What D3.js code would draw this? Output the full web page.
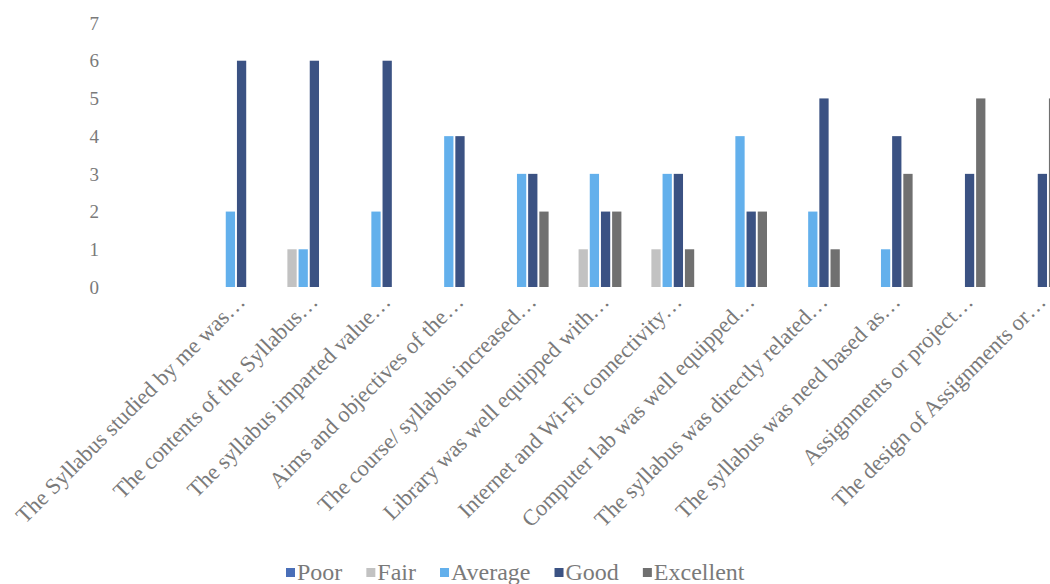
<!DOCTYPE html>
<html>
<head>
<meta charset="utf-8">
<script src="https://cdn.jsdelivr.net/npm/d3@7/dist/d3.min.js"></script>
<style>
  html, body { margin: 0; padding: 0; background: #fff; }
  svg { display: block; }
  text { font-family: "Liberation Serif", "Times New Roman", serif; }
</style>
</head>
<body>
<svg id="chart" width="1050" height="584"></svg>
<script>
const categories = [
  "The Syllabus studied by me was…",
  "The contents of the Syllabus…",
  "The syllabus imparted value…",
  "Aims and objectives of the…",
  "The course/ syllabus increased…",
  "Library was well equipped with…",
  "Internet and Wi-Fi connectivity…",
  "Computer lab was well equipped…",
  "The syllabus was directly related…",
  "The syllabus was need based as…",
  "Assignments or project…",
  "The design of Assignments or…"
];
const seriesNames = ["Poor", "Fair", "Average", "Good", "Excellent"];
const poor      = [0, 0, 0, 0, 0, 0, 0, 0, 0, 0, 0, 0];
const fair      = [0, 1, 0, 0, 0, 1, 1, 0, 0, 0, 0, 0];
const average   = [2, 1, 2, 4, 3, 3, 3, 4, 2, 1, 0, 0];
const good      = [6, 6, 6, 4, 3, 2, 3, 2, 5, 4, 3, 3];
const excellent = [0, 0, 0, 0, 2, 2, 1, 2, 1, 3, 5, 5];
const yTicks = [0, 1, 2, 3, 4, 5, 6, 7];
const colors = ["#4a6fb8", "#c2c2c2", "#63b0ec", "#3b5283", "#707070"];

const seriesValues = [poor, fair, average, good, excellent];

const svg = d3.select("#chart");

const x = d3.scaleBand().domain(categories).range([194, 194 + 12 * 72.8]).paddingInner(0).paddingOuter(0);
const xs = d3.scaleBand().domain(seriesNames).range([-27, 27]).paddingInner(0.17);
const y = d3.scaleLinear().domain([0, 7]).range([287, 23]);

// y tick labels
svg.append("g").selectAll("text").data(yTicks).join("text")
  .attr("x", 99).attr("y", d => y(d)).attr("dy", "0.35em")
  .attr("text-anchor", "end")
  .attr("font-size", 19).attr("fill", "#7a7a7a")
  .text(d => d);

// bars
const groups = svg.append("g").selectAll("g").data(categories).join("g")
  .attr("transform", d => `translate(${x(d) + x.bandwidth() / 2},0)`);

groups.selectAll("rect")
  .data((c, i) => seriesNames.map((s, k) => ({ s, k, v: seriesValues[k][i] })))
  .join("rect")
  .attr("x", d => xs(d.s))
  .attr("width", xs.bandwidth())
  .attr("y", d => y(d.v))
  .attr("height", d => y(0) - y(d.v))
  .attr("fill", d => colors[d.k]);

// category labels
svg.append("g").selectAll("text").data(categories).join("text")
  .attr("transform", d => `translate(${x(d) + x.bandwidth() / 2 + 16},303) rotate(-45)`)
  .attr("text-anchor", "end")
  .attr("font-size", 22.5).attr("fill", "#7a7a7a")
  .text(d => d);

// legend
const legend = svg.append("g");
let lx = 286;
seriesNames.forEach((s, k) => {
  legend.append("rect").attr("x", lx).attr("y", 568).attr("width", 9).attr("height", 9).attr("fill", colors[k]);
  const t = legend.append("text").attr("x", lx + 11).attr("y", 580)
    .attr("font-size", 24).attr("fill", "#7a7a7a").text(s);
  lx += 11 + t.node().getComputedTextLength() + 24;
});
</script>
</body>
</html>
